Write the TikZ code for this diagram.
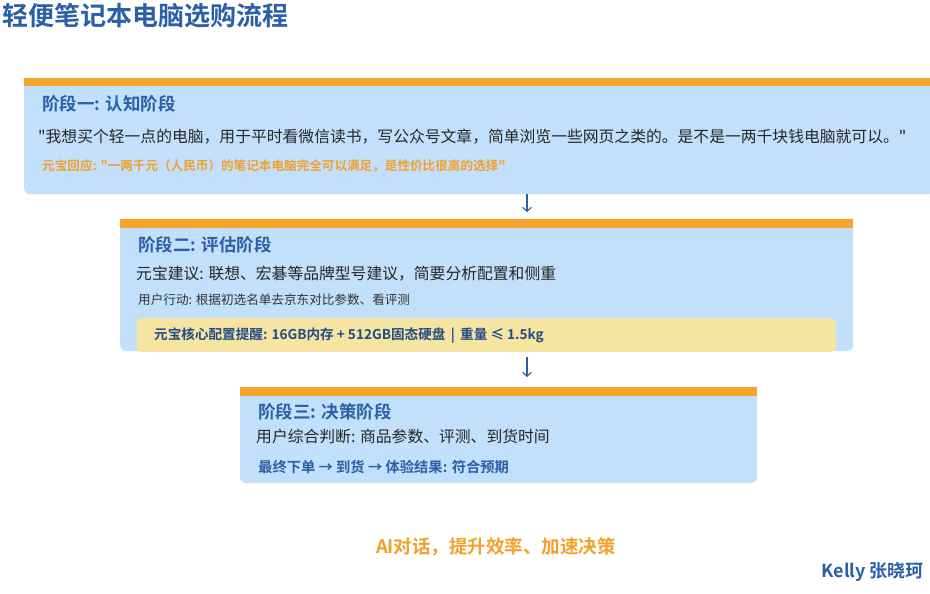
\documentclass[tikz,border=0pt]{standalone}
\usepackage{fontspec}
\setmainfont{Liberation Serif}
\newfontfamily\cjk{Noto Sans CJK SC}
\newfontfamily\cjkb{Noto Sans CJK SC Bold}
\usetikzlibrary{arrows.meta}
\definecolor{boxbg}{HTML}{C2E0FB}
\definecolor{bar}{HTML}{F7A42C}
\definecolor{hd}{HTML}{2B5FA8}
\definecolor{yel}{HTML}{F6E4A2}
\definecolor{org}{HTML}{F2A02A}
\begin{document}
\begin{tikzpicture}[x=1pt,y=-1pt,inner sep=0pt,
  stagebox/.style={fill=boxbg,rounded corners=6pt},
  barst/.style={fill=bar},
  hdr/.style={anchor=west,text=hd,font=\cjkb\fontsize{17.5}{19}\selectfont},
  body/.style={anchor=west,text=black!85,font=\cjk\fontsize{15.8}{17}\selectfont},
  small/.style={anchor=west,text=black!80,font=\cjk\fontsize{12.6}{14}\selectfont},
  conn/.style={draw=hd,line width=1.1pt,-{Straight Barb[length=4pt,width=9pt]}}]
\useasboundingbox (0,0) rectangle (930,594);
\node[anchor=west,text=hd,font=\cjkb\fontsize{26}{28}\selectfont] (title) at (2,16) {轻便笔记本电脑选购流程};
% stage 1
\fill[stagebox] (24,80) rectangle (935,194);
\fill[barst] (24,78) rectangle (930,86);
\coordinate (b1) at (527,194);
\node[hdr] (h1) at (42,104) {阶段一: 认知阶段};
\node[body] (t1) at (38,137) {"我想买个轻一点的电脑，用于平时看微信读书，写公众号文章，简单浏览一些网页之类的。是不是一两千块钱电脑就可以。"};
\node[anchor=west,text=org,font=\cjkb\fontsize{12.6}{14}\selectfont] (r1) at (42,166) {元宝回应: "一两千元（人民币）的笔记本电脑完全可以满足，是性价比很高的选择"};
% stage 2
\fill[stagebox] (120,221) rectangle (853,351);
\fill[barst] (120,219) rectangle (853,228);
\coordinate (t2top) at (527,212);
\node[hdr] (h2) at (138,245) {阶段二: 评估阶段};
\node[body] (t2) at (136,274) {元宝建议: 联想、宏碁等品牌型号建议，简要分析配置和侧重};
\node[small] (s2) at (138,300) {用户行动: 根据初选名单去京东对比参数、看评测};
\fill[yel,rounded corners=5pt] (137,318) rectangle (836,352);
\node[anchor=west,text=hd!80!black,font=\cjkb\fontsize{13.6}{15}\selectfont] (y2) at (154,336) {元宝核心配置提醒: 16GB内存 + 512GB固态硬盘 \,|\, 重量 ≤ 1.5kg};
\coordinate (b2) at (527,357);
% stage 3
\fill[stagebox] (240,389) rectangle (757,483);
\fill[barst] (240,387) rectangle (757,396);
\coordinate (t3top) at (527,377);
\node[hdr] (h3) at (258,412) {阶段三: 决策阶段};
\node[body] (t3) at (256,437) {用户综合判断: 商品参数、评测、到货时间};
\node[anchor=west,text=hd,font=\cjkb\fontsize{14.3}{16}\selectfont] (f3) at (258,467) {最终下单 → 到货 → 体验结果: 符合预期};
\draw[conn] (b1) -- (t2top);
\draw[conn] (b2) -- (t3top);
\node[text=org,font=\cjkb\fontsize{18.5}{20}\selectfont] (slogan) at (496,547) {AI对话，提升效率、加速决策};
\node[anchor=east,text=hd,font=\cjkb\fontsize{18}{20}\selectfont] (sig) at (924,572) {Kelly 张晓珂};
\end{tikzpicture}
\end{document}
